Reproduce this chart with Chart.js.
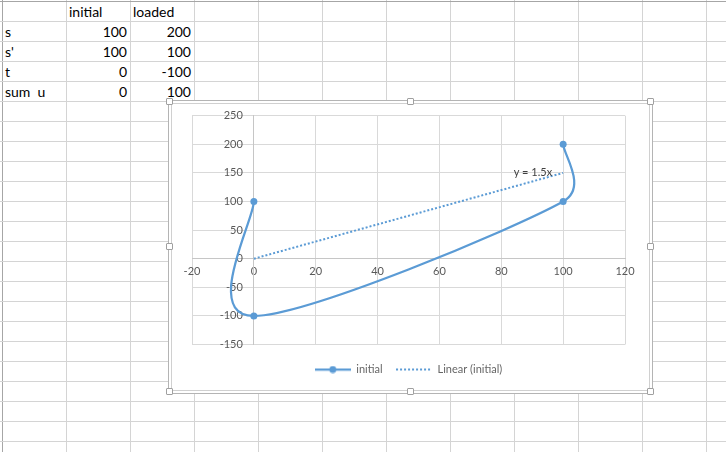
<!DOCTYPE html>
<html>
<head>
    <title>initial - scatter with smooth line</title>
    <script src="https://cdn.jsdelivr.net/npm/chart.js"></script>
    <style>
        body {
            margin: 0;
            width: 726px;
            height: 452px;
            overflow: hidden;
            background: #fff;
            font-family: Lato, "Open Sans", sans-serif;
            position: relative;
        }
        .vline, .hline {
            position: absolute;
            background: #d4d4d4;
        }
        .vline { top: 0; width: 1px; height: 452px; }
        .hline { left: 0; height: 1px; width: 726px; }
        .cell {
            position: absolute;
            height: 20px;
            line-height: 20px;
            font-size: 14px;
            color: #000;
            white-space: pre;
        }
        #frame {
            position: absolute;
            left: 168px;
            top: 100px;
            width: 485px;
            height: 294px;
            box-sizing: border-box;
            border: 1px solid #b4b4b4;
            background: #fff;
        }
        #inner {
            position: absolute;
            left: 171px;
            top: 103px;
            width: 479px;
            height: 288px;
            box-sizing: border-box;
            border: 1px solid #d0d0d0;
        }
        #chartBox {
            position: absolute;
            left: 172px;
            top: 104px;
            width: 476px;
            height: 285px;
        }
        .handle {
            position: absolute;
            width: 7px;
            height: 7px;
            box-sizing: border-box;
            border: 1px solid #a0a0a0;
            border-radius: 1px;
            background: #fff;
        }
    </style>
</head>
<body>
    <div id="sheet"></div>
    <div id="frame"></div>
    <div id="inner"></div>
    <div id="chartBox"><canvas id="chart" width="476" height="285"></canvas></div>

    <script>
        // worksheet cells
        const headers = ['initial', 'loaded'];
        const rowLabels = ['s', "s'", 't', 'sum  u'];
        const initialCol = [100, 100, 0, 0];
        const loadedCol = [200, 100, -100, 100];

        // chart series (x, y) and the linear trendline
        const seriesX = [0, 0, 100, 100];
        const seriesY = [100, -100, 100, 200];
        const trendX = [0, 100];
        const trendY = [0, 150];
        const trendLabel = 'y = 1.5x';
        const legendNames = ['initial', 'Linear (initial)'];

        // axis ticks
        const xTicks = [-20, 0, 20, 40, 60, 80, 100, 120];
        const yTicks = [-150, -100, -50, 0, 50, 100, 150, 200, 250];

        const blue = '#5b9bd5';
        const tickColor = '#595959';
        const tickFont = { family: 'Lato', size: 11 };

        // --- spreadsheet grid ---
        const sheet = document.getElementById('sheet');
        for (let x = 2; x < 726; x += 64) {
            const d = document.createElement('div');
            d.className = 'vline';
            d.style.left = x + 'px';
            if (x === 2) d.style.background = '#a6a6a6';
            sheet.appendChild(d);
        }
        for (let y = 1; y < 452; y += 20) {
            const d = document.createElement('div');
            d.className = 'hline';
            d.style.top = y + 'px';
            if (y === 1) d.style.background = '#a6a6a6';
            sheet.appendChild(d);
        }

        function addCell(text, col, row, alignRight) {
            const d = document.createElement('div');
            d.className = 'cell';
            const left = 2 + col * 64;
            d.style.top = (2 + row * 20) + 'px';
            if (alignRight) {
                d.style.left = left + 'px';
                d.style.width = '61px';
                d.style.textAlign = 'right';
            } else {
                d.style.left = (left + 3) + 'px';
            }
            d.textContent = text;
            sheet.appendChild(d);
        }
        headers.forEach((h, i) => addCell(h, i + 1, 0, false));
        rowLabels.forEach((lab, r) => {
            addCell(lab, 0, r + 1, false);
            addCell(String(initialCol[r]), 1, r + 1, true);
            addCell(String(loadedCol[r]), 2, r + 1, true);
        });

        // selection handles around the chart object
        [[169.5, 101.5], [410, 101.5], [650.5, 101.5], [169.5, 246.5], [650.5, 246.5],
         [169.5, 391.5], [410, 391.5], [650.5, 391.5]].forEach(([cx, cy]) => {
            const h = document.createElement('div');
            h.className = 'handle';
            h.style.left = Math.round(cx - 3.5) + 'px';
            h.style.top = Math.round(cy - 3.5) + 'px';
            document.body.appendChild(h);
        });

        // --- legend symbols ---
        function legendSymbol(dotted) {
            const c = document.createElement('canvas');
            c.width = 36;
            c.height = 8;
            const g = c.getContext('2d');
            g.strokeStyle = blue;
            g.lineWidth = dotted ? 2 : 2.25;
            if (dotted) g.setLineDash([2, 2]);
            g.beginPath();
            g.moveTo(0, 4);
            g.lineTo(36, 4);
            g.stroke();
            if (!dotted) {
                g.fillStyle = blue;
                g.beginPath();
                g.arc(18, 4, 3.5, 0, Math.PI * 2);
                g.fill();
            }
            return c;
        }

        // Excel style smoothing: control points from neighbours, 1/6 tension,
        // capped at half the segment length
        const excelSmooth = {
            id: 'excelSmooth',
            beforeDatasetDraw(chart, args) {
                const ds = chart.data.datasets[args.index];
                const meta = args.meta;
                if (!ds.excelSmooth || !meta.dataset) return;
                const line = meta.dataset;
                if (typeof line.updateControlPoints === 'function') {
                    line.updateControlPoints(chart.chartArea, meta.iScale.axis);
                }
                const pts = meta.data;
                const n = pts.length;
                const dist = (a, b) => Math.hypot(b.x - a.x, b.y - a.y);
                for (let i = 0; i < n - 1; i++) {
                    const p0 = pts[Math.max(i - 1, 0)];
                    const p1 = pts[i];
                    const p2 = pts[i + 1];
                    const p3 = pts[Math.min(i + 2, n - 1)];
                    const d12 = dist(p1, p2);
                    const d02 = dist(p0, p2);
                    const d13 = dist(p1, p3);
                    const f0 = d02 / 6 < d12 / 2 ? 1 / 6 : d12 / 2 / d02;
                    const f3 = d13 / 6 < d12 / 2 ? 1 / 6 : d12 / 2 / d13;
                    p1.cp2x = p1.x + (p2.x - p0.x) * f0;
                    p1.cp2y = p1.y + (p2.y - p0.y) * f0;
                    p2.cp1x = p2.x - (p3.x - p1.x) * f3;
                    p2.cp1y = p2.y - (p3.y - p1.y) * f3;
                }
                line._pointsUpdated = true;
                line._path = undefined;
            }
        };

        // y tick labels: right aligned just left of the axis that crosses at x = 0
        const yLabels = {
            id: 'yLabels',
            beforeDatasetsDraw(chart) {
                const { ctx, scales } = chart;
                const ax = scales.x.getPixelForValue(0);
                ctx.save();
                ctx.font = tickFont.size + 'px ' + tickFont.family;
                ctx.fillStyle = tickColor;
                ctx.textAlign = 'right';
                ctx.textBaseline = 'middle';
                scales.y.ticks.forEach(t => {
                    ctx.fillText(String(t.value), ax - 11, scales.y.getPixelForValue(t.value));
                });
                ctx.restore();
            }
        };

        // trendline equation label
        const trendText = {
            id: 'trendText',
            afterDatasetsDraw(chart) {
                const { ctx, scales } = chart;
                const x = scales.x.getPixelForValue(trendX[1]);
                const y = scales.y.getPixelForValue(trendY[1]);
                ctx.save();
                ctx.font = '11px Lato';
                ctx.fillStyle = '#404040';
                ctx.textAlign = 'right';
                ctx.textBaseline = 'middle';
                ctx.fillText(trendLabel, x - 11, y);
                ctx.restore();
            }
        };

        new Chart(document.getElementById('chart'), {
            type: 'scatter',
            data: {
                datasets: [{
                    label: legendNames[0],
                    data: seriesX.map((x, i) => ({ x: x, y: seriesY[i] })),
                    showLine: true,
                    tension: 0.4,
                    excelSmooth: true,
                    borderColor: blue,
                    borderWidth: 2.25,
                    backgroundColor: blue,
                    pointRadius: 3.5,
                    pointBorderWidth: 0
                }, {
                    label: legendNames[1],
                    data: trendX.map((x, i) => ({ x: x, y: trendY[i] })),
                    showLine: true,
                    tension: 0,
                    borderColor: blue,
                    borderWidth: 2,
                    borderDash: [2, 2],
                    pointRadius: 0
                }]
            },
            options: {
                responsive: false,
                animation: false,
                layout: { padding: { left: 20, right: 23, top: 11.7, bottom: 4 } },
                scales: {
                    x: {
                        type: 'linear',
                        position: { y: 0 },
                        min: xTicks[0],
                        max: xTicks[xTicks.length - 1],
                        afterBuildTicks: s => { s.ticks = xTicks.map(v => ({ value: v })); },
                        grid: { color: '#d9d9d9', drawTicks: false },
                        border: { color: '#c6c6c6' },
                        ticks: { color: tickColor, font: tickFont, padding: 6, maxRotation: 0 }
                    },
                    y: {
                        type: 'linear',
                        position: { x: 0 },
                        min: yTicks[0],
                        max: yTicks[yTicks.length - 1],
                        afterBuildTicks: s => { s.ticks = yTicks.map(v => ({ value: v })); },
                        grid: { color: '#d9d9d9', drawTicks: false },
                        border: { color: '#c6c6c6' },
                        ticks: { display: false }
                    }
                },
                plugins: {
                    tooltip: { enabled: false },
                    legend: {
                        position: 'bottom',
                        title: { display: true, text: '', padding: 0, font: { size: 5 } },
                        labels: {
                            color: tickColor,
                            font: { family: 'Lato', size: 11 },
                            usePointStyle: true,
                            pointStyleWidth: 36,
                            padding: 13.5,
                            generateLabels: () => legendNames.map((name, i) => ({
                                text: name,
                                pointStyle: legendSymbol(i === 1),
                                fillStyle: blue,
                                strokeStyle: blue,
                                lineWidth: 0,
                                hidden: false,
                                datasetIndex: i
                            }))
                        }
                    }
                }
            },
            plugins: [excelSmooth, yLabels, trendText]
        });
    </script>
</body>
</html>
